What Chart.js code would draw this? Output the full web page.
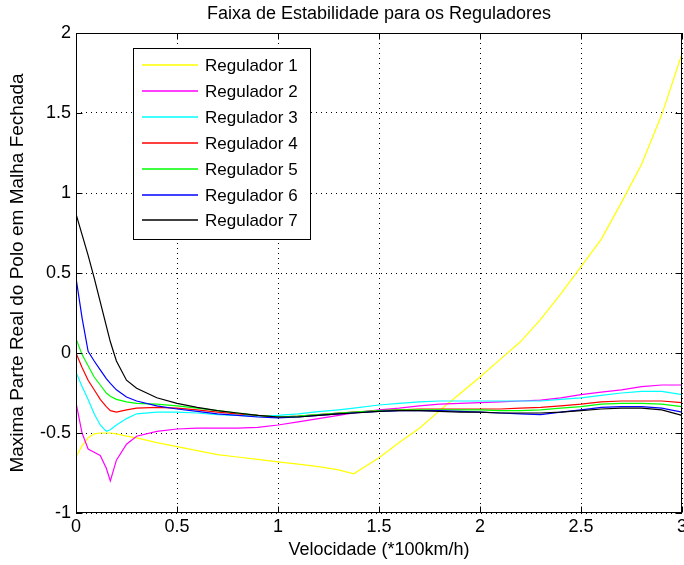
<!DOCTYPE html>
<html>
<head>
<meta charset="utf-8">
<script src="https://cdn.jsdelivr.net/npm/chart.js@4/dist/chart.umd.min.js"></script>
<style>
html,body{margin:0;padding:0;background:#fff;}
#wrap{width:684px;height:565px;position:relative;}
</style>
</head>
<body>
<div id="wrap"><canvas id="c" width="684" height="565"></canvas></div>
<script>
// ---- data ----
const velocidade = [0, 0.03, 0.06, 0.09, 0.12, 0.15, 0.17, 0.2, 0.25, 0.3, 0.4, 0.5, 0.6, 0.7, 0.8, 0.9, 1.0, 1.1, 1.2, 1.3, 1.375, 1.5, 1.6, 1.7, 1.8, 1.9, 2.0, 2.1, 2.2, 2.3, 2.4, 2.5, 2.6, 2.7, 2.8, 2.9, 3.0];

const regulador1 = [-0.65, -0.58, -0.53, -0.505, -0.50, -0.50, -0.50, -0.505, -0.52, -0.53, -0.56, -0.585, -0.61, -0.635, -0.65, -0.665, -0.68, -0.695, -0.71, -0.73, -0.755, -0.655, -0.56, -0.47, -0.36, -0.255, -0.15, -0.04, 0.07, 0.21, 0.37, 0.54, 0.71, 0.94, 1.18, 1.49, 1.87];
const regulador2 = [-0.31, -0.50, -0.60, -0.62, -0.64, -0.72, -0.80, -0.67, -0.57, -0.52, -0.49, -0.475, -0.47, -0.47, -0.47, -0.465, -0.45, -0.43, -0.41, -0.39, -0.375, -0.355, -0.345, -0.33, -0.32, -0.315, -0.31, -0.305, -0.30, -0.295, -0.28, -0.26, -0.245, -0.23, -0.21, -0.20, -0.20];
const regulador3 = [-0.12, -0.21, -0.29, -0.38, -0.45, -0.49, -0.48, -0.45, -0.41, -0.38, -0.37, -0.37, -0.375, -0.385, -0.39, -0.395, -0.39, -0.38, -0.367, -0.355, -0.345, -0.325, -0.315, -0.305, -0.30, -0.30, -0.30, -0.30, -0.30, -0.30, -0.29, -0.28, -0.265, -0.25, -0.24, -0.24, -0.26];
const regulador4 = [0.0, -0.09, -0.17, -0.23, -0.29, -0.335, -0.36, -0.37, -0.355, -0.345, -0.34, -0.345, -0.355, -0.37, -0.38, -0.39, -0.40, -0.395, -0.385, -0.375, -0.37, -0.36, -0.355, -0.35, -0.35, -0.35, -0.35, -0.35, -0.345, -0.34, -0.33, -0.32, -0.305, -0.30, -0.30, -0.30, -0.31];
const regulador5 = [0.09, -0.01, -0.08, -0.15, -0.20, -0.25, -0.27, -0.29, -0.305, -0.315, -0.32, -0.33, -0.345, -0.36, -0.375, -0.39, -0.40, -0.395, -0.385, -0.375, -0.37, -0.36, -0.355, -0.355, -0.355, -0.355, -0.355, -0.36, -0.36, -0.355, -0.345, -0.335, -0.32, -0.315, -0.315, -0.32, -0.335];
const regulador6 = [0.47, 0.22, 0.01, -0.05, -0.105, -0.16, -0.19, -0.23, -0.275, -0.30, -0.33, -0.35, -0.365, -0.38, -0.39, -0.40, -0.405, -0.40, -0.39, -0.38, -0.375, -0.365, -0.36, -0.36, -0.36, -0.365, -0.37, -0.375, -0.38, -0.385, -0.37, -0.355, -0.34, -0.335, -0.335, -0.345, -0.37];
const regulador7 = [0.87, 0.74, 0.61, 0.47, 0.32, 0.17, 0.07, -0.05, -0.17, -0.22, -0.28, -0.315, -0.34, -0.36, -0.375, -0.39, -0.40, -0.40, -0.39, -0.38, -0.375, -0.365, -0.36, -0.36, -0.365, -0.37, -0.37, -0.375, -0.375, -0.375, -0.37, -0.36, -0.35, -0.345, -0.345, -0.355, -0.39];

const seriesNames = ['Regulador 1', 'Regulador 2', 'Regulador 3', 'Regulador 4', 'Regulador 5', 'Regulador 6', 'Regulador 7'];
const xTickValues = [0, 0.5, 1, 1.5, 2, 2.5, 3];
const xTickLabels = ['0', '0.5', '1', '1.5', '2', '2.5', '3'];
const yTickValues = [-1, -0.5, 0, 0.5, 1, 1.5, 2];
const yTickLabels = ['-1', '-0.5', '0', '0.5', '1', '1.5', '2'];
const chartTitle = 'Faixa de Estabilidade para os Reguladores';
const xTitle = 'Velocidade (*100km/h)';
const yTitle = 'Maxima Parte Real do Polo em Malha Fechada';

// ---- styles ----
const seriesColors = ['#ffff00', '#ff00ff', '#00ffff', '#ff0000', '#00ff00', '#0000ff', '#000000'];
const baseFont = '"Liberation Sans", Arial, sans-serif';

const allSeries = [regulador1, regulador2, regulador3, regulador4, regulador5, regulador6, regulador7];

const datasets = allSeries.map((vals, i) => ({
  label: seriesNames[i],
  data: velocidade.map((x, k) => ({x: x, y: vals[k]})),
  borderColor: seriesColors[i],
  backgroundColor: seriesColors[i],
  borderWidth: 1.2,
  pointRadius: 0,
  tension: 0,
  fill: false,
  order: allSeries.length - 1 - i
}));

const framePlugin = {
  id: 'matlabFrame',
  beforeDraw(chart) {
    const ctx = chart.ctx;
    ctx.save();
    ctx.fillStyle = '#ffffff';
    ctx.fillRect(0, 0, chart.width, chart.height);
    ctx.restore();
  },
  afterDatasetsDraw(chart) {
    const ctx = chart.ctx;
    const a = chart.chartArea;
    const xs = chart.scales.x, ys = chart.scales.y;
    const L = Math.round(a.left) + 0.5, R = Math.round(a.right) - 0.5;
    const T = Math.round(a.top) + 0.5, B = Math.round(a.bottom) - 0.5;
    ctx.save();
    ctx.strokeStyle = '#000';
    ctx.lineWidth = 1;
    ctx.strokeRect(L, T, R - L, B - T);
    const tl = 6;
    ctx.beginPath();
    xTickValues.forEach(v => {
      const px = Math.round(xs.getPixelForValue(v)) + 0.5;
      ctx.moveTo(px, B); ctx.lineTo(px, B - tl);
      ctx.moveTo(px, T); ctx.lineTo(px, T + tl);
    });
    yTickValues.forEach(v => {
      const py = Math.round(ys.getPixelForValue(v)) + 0.5;
      ctx.moveTo(L, py); ctx.lineTo(L + tl, py);
      ctx.moveTo(R, py); ctx.lineTo(R - tl, py);
    });
    ctx.stroke();
    ctx.restore();
  },
  afterDraw(chart) {
    const ctx = chart.ctx;
    const a = chart.chartArea;
    ctx.save();
    // title
    ctx.fillStyle = '#000';
    ctx.font = '18px ' + baseFont;
    ctx.textAlign = 'center';
    ctx.textBaseline = 'middle';
    ctx.fillText(chartTitle, (a.left + a.right) / 2, 14);
    // legend
    const bx = 133.5, by = 48.5, bw = 177, bh = 191;
    ctx.fillStyle = '#fff';
    ctx.fillRect(bx, by, bw, bh);
    ctx.strokeStyle = '#000';
    ctx.lineWidth = 1;
    ctx.strokeRect(bx, by, bw, bh);
    ctx.font = '17px ' + baseFont;
    ctx.textAlign = 'left';
    ctx.textBaseline = 'middle';
    seriesNames.forEach((name, i) => {
      const y = Math.round(65 + i * 25.9);
      ctx.strokeStyle = seriesColors[i];
      ctx.lineWidth = 1.6;
      ctx.beginPath();
      ctx.moveTo(142, y); ctx.lineTo(198, y);
      ctx.stroke();
      ctx.fillStyle = '#000';
      ctx.fillText(name, 205, y + 1);
    });
    ctx.restore();
  }
};

new Chart(document.getElementById('c'), {
  type: 'line',
  data: { datasets: datasets },
  plugins: [framePlugin],
  options: {
    responsive: false,
    animation: false,
    devicePixelRatio: 1,
    layout: { padding: { top: 33, right: 2, bottom: 0, left: 0 } },
    plugins: {
      legend: { display: false },
      title: { display: false },
      tooltip: { enabled: false }
    },
    scales: {
      x: {
        type: 'linear',
        min: 0, max: 3,
        afterBuildTicks: s => { s.ticks = xTickValues.map(v => ({value: v})); },
        afterFit: s => { s.height = 52; s.paddingRight = 2; s.paddingLeft = 0; },
        ticks: {
          color: '#000', font: { family: baseFont, size: 18 }, padding: 3, maxRotation: 0, autoSkip: false,
          callback: (v) => xTickLabels[xTickValues.indexOf(v)]
        },
        grid: { color: '#000', lineWidth: 1, drawTicks: false },
        border: { display: false, dash: [1, 4] },
        title: { display: true, text: xTitle, color: '#000', font: { family: baseFont, size: 18 }, padding: { top: 0, bottom: 4 } }
      },
      y: {
        type: 'linear',
        min: -1, max: 2,
        afterBuildTicks: s => { s.ticks = yTickValues.map(v => ({value: v})); },
        afterFit: s => { s.width = 76; },
        ticks: {
          color: '#000', font: { family: baseFont, size: 18 }, padding: 5, autoSkip: false,
          callback: (v) => yTickLabels[yTickValues.indexOf(v)]
        },
        grid: { color: '#000', lineWidth: 1, drawTicks: false },
        border: { display: false, dash: [1, 4] },
        title: { display: true, text: yTitle, color: '#000', font: { family: baseFont, size: 19 }, padding: { top: 6, bottom: 0 } }
      }
    }
  }
});
</script>
</body>
</html>
